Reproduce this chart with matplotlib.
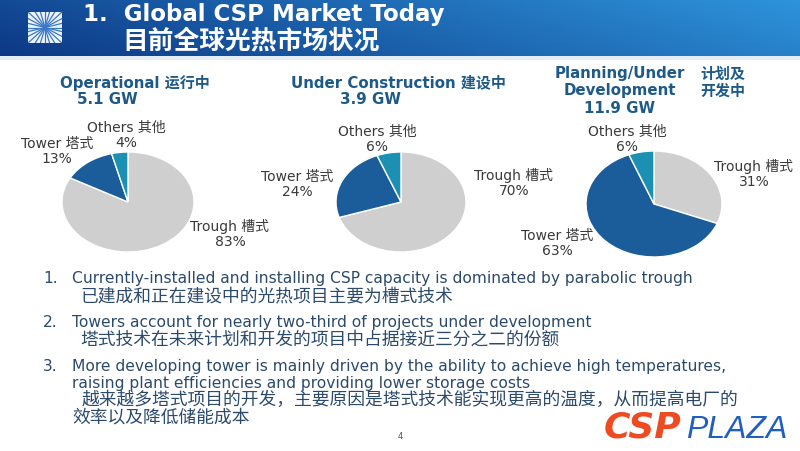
import numpy as np
import matplotlib.pyplot as plt
from matplotlib.patches import Rectangle

# 数据：三个阶段的光热技术占比 (%)
categories = ["Trough 槽式", "Tower 塔式", "Others 其他"]
operational = [83, 13, 4]
construction = [70, 24, 6]
planning = [31, 63, 6]
capacity_gw = [5.1, 3.9, 11.9]
stage_en = ["Operational", "Under Construction", "Planning/Under\nDevelopment"]
stage_cn = ["运行中", "建设中", "计划及\n开发中"]

title_en = "1.  Global CSP Market Today"
title_cn = "目前全球光热市场状况"

bullet_en = [
    "Currently-installed and installing CSP capacity is dominated by parabolic trough",
    "Towers account for nearly two-third of projects under development",
    "More developing tower is mainly driven by the ability to achieve high temperatures,\nraising plant efficiencies and providing lower storage costs",
]
bullet_cn = [
    "已建成和正在建设中的光热项目主要为槽式技术",
    "塔式技术在未来计划和开发的项目中占据接近三分之二的份额",
    "越来越多塔式项目的开发，主要原因是塔式技术能实现更高的温度，从而提高电厂的\n效率以及降低储能成本",
]

colors = ["#CFCFCF", "#1B5C9A", "#1C90B2"]
FONTS = ["DejaVu Sans", "Noto Sans CJK SC"]
plt.rcParams["font.family"] = FONTS

W, H = 800, 452
fig = plt.figure(figsize=(8, 4.52), dpi=100)
fig.patch.set_facecolor("white")


def fx(x):
    return x / W


def fy(y):
    return 1 - y / H


def txt(x, y, s, **kw):
    kw.setdefault("ha", "center")
    kw.setdefault("va", "center")
    return fig.text(fx(x), fy(y), s, **kw)


# 顶部蓝色渐变标题栏
band_h = 57
hax = fig.add_axes([0, fy(band_h), 1, band_h / H])
gx = np.linspace(0, 1, 400)
gy = np.linspace(0, 1, 60)
GX, GY = np.meshgrid(gx, gy)
c0 = np.array([0.05, 0.22, 0.52])
c1 = np.array([0.18, 0.58, 0.86])
t = np.clip(GX * 0.8 + (1 - GY) * 0.2, 0, 1)[..., None]
img = c0 * (1 - t) + c1 * t
hax.imshow(img, aspect="auto", extent=[0, 1, 0, 1], origin="upper")
hax.axis("off")
fig.add_artist(Rectangle((0, fy(61)), 1, 4 / H, transform=fig.transFigure,
                         facecolor="#E4ECF4", edgecolor="none"))

# 左上角标志
lax = fig.add_axes([fx(28), fy(44), 34 / W, 31 / H])
lax.add_patch(Rectangle((-1, -1), 2, 2, facecolor="#EEF4FB", edgecolor="none"))
for a in np.linspace(0, 2 * np.pi, 24, endpoint=False):
    lax.plot([0, 2 * np.cos(a)], [0, 2 * np.sin(a)], color="#3A78C8", lw=0.9)
lax.set_xlim(-1, 1)
lax.set_ylim(-1, 1)
lax.axis("off")

txt(83, 14, title_en, ha="left", color="white", fontsize=16.5, fontweight="bold")
txt(122, 41, title_cn, ha="left", color="white", fontsize=18.5, fontweight="bold")

# 三个饼图
pies = [
    (operational, (128, 203, 66, 50)),
    (construction, (401, 203, 65, 50)),
    (planning, (654, 205, 68, 53)),
]
for vals, (cx, cy, rx, ry) in pies:
    ax = fig.add_axes([fx(cx - rx), fy(cy + ry), 2 * rx / W, 2 * ry / H])
    ax.pie(vals, colors=colors, startangle=90, counterclock=False, radius=1,
           wedgeprops=dict(edgecolor="white", linewidth=1.0))
    ax.set_aspect("auto")
    ax.set_xlim(-1, 1)
    ax.set_ylim(-1, 1)
    ax.axis("off")

# 饼图标签位置（名称行中心）
label_pos = [
    [(230, 227), (57, 144), (126, 128)],
    [(514, 176), (297, 177), (377, 132)],
    [(754, 167), (557, 236), (627, 132)],
]
lab_color = "#3A3A3A"
for vals, pos in zip([operational, construction, planning], label_pos):
    for name, v, (x, y) in zip(categories, vals, pos):
        txt(x, y, name, color=lab_color, fontsize=10)
        txt(x, y + 15, f"{v}%", color=lab_color, fontsize=10)

# 饼图标题
tcol = "#1E5A88"
tfs = 10.8
txt(135, 83, f"{stage_en[0]} {stage_cn[0]}", color=tcol, fontsize=tfs, fontweight="bold")
txt(107, 100, f"{capacity_gw[0]} GW", color=tcol, fontsize=tfs, fontweight="bold")
txt(398, 83, f"{stage_en[1]} {stage_cn[1]}", color=tcol, fontsize=tfs, fontweight="bold")
txt(370, 100, f"{capacity_gw[1]} GW", color=tcol, fontsize=tfs, fontweight="bold")
txt(620, 91, f"{stage_en[2]}\n{capacity_gw[2]} GW", color=tcol, fontsize=tfs,
    fontweight="bold", linespacing=1.2)
txt(723, 83, stage_cn[2], color=tcol, fontsize=tfs, fontweight="bold", linespacing=1.2)

# 要点文字（基线对齐）
bcol = "#2C4A6C"
efs, cfs = 11.2, 12.8
en_base = [283, 327, 371]
cn_base = [301, 345, 405]
for i, (en, cn) in enumerate(zip(bullet_en, bullet_cn)):
    txt(43, en_base[i], f"{i + 1}.", ha="left", va="baseline", color=bcol, fontsize=efs)
    for k, line in enumerate(en.split("\n")):
        txt(72, en_base[i] + 17 * k, line, ha="left", va="baseline", color=bcol,
            fontsize=efs)
    lines = cn.split("\n")
    for k, line in enumerate(lines):
        x0 = 72 if k > 0 else (82 if len(lines) > 1 else 80)
        txt(x0, cn_base[i] + 17 * k, line, ha="left", va="baseline", color=bcol,
            fontsize=cfs, family="Noto Sans CJK SC")

# 页码与水印
txt(400, 437, "4", color="#555555", fontsize=6)
fig.text(fx(604), fy(438), "CSP", color="#EE4B22", fontsize=26, fontweight="bold",
         style="italic", ha="left", va="baseline")
fig.text(fx(686), fy(438), "PLAZA", color="#1F5FC0", fontsize=23, style="italic",
         ha="left", va="baseline", family="Liberation Sans")

fig.savefig("out.png", dpi=100)
